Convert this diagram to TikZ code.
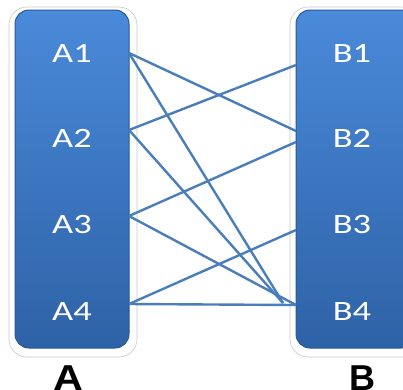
\documentclass[tikz,border=0pt]{standalone}
\usepackage{fontspec}
\newfontfamily\boxfont{Carlito}
\newfontfamily\labfont{Liberation Sans}
\definecolor{boxtop}{RGB}{74,138,218}
\definecolor{boxbot}{RGB}{46,98,166}
\definecolor{linkc}{RGB}{74,126,187}
\definecolor{glowc}{RGB}{200,200,200}
\tikzset{
  glowbox/.style={draw=glowc,line width=0.6pt,fill=white,rounded corners=18pt},
  bluebox/.style={top color=boxtop,bottom color=boxbot,draw=boxbot!90!black,line width=1pt,rounded corners=14pt},
  itemtxt/.style={text=white,font=\boxfont\fontsize{28}{28}\selectfont,inner sep=0pt},
  grouptxt/.style={text=black,font=\labfont\bfseries\fontsize{36}{36}\selectfont,inner sep=0pt,anchor=base},
  link/.style={draw=linkc,line width=2.4pt}
}
\begin{document}
\begin{tikzpicture}[x=1pt,y=-1pt]
\useasboundingbox (0,0) rectangle (403,389);
\begin{scope}
\clip (0,0) rectangle (403,389);
% glow outlines
\draw[glowbox] (9,7) rectangle (137,357);
\draw[glowbox] (290,7) rectangle (420,357);
% boxes
\path[bluebox] (15,10) rectangle (129,348);
\path[bluebox] (296,10) rectangle (415,348);
\node (boxA) at (72,179) {};
\node (boxB) at (352,179) {};
% items
\node[itemtxt] (A1) at (72,53) {\scalebox{1.3}[1]{A1}};
\node[itemtxt] (A2) at (72,138) {\scalebox{1.3}[1]{A2}};
\node[itemtxt] (A3) at (72,225) {\scalebox{1.3}[1]{A3}};
\node[itemtxt] (A4) at (72,311) {\scalebox{1.3}[1]{A4}};
\node[itemtxt] (B1) at (352,53) {\scalebox{1.3}[1]{B1}};
\node[itemtxt] (B2) at (352,138) {\scalebox{1.3}[1]{B2}};
\node[itemtxt] (B3) at (352,225) {\scalebox{1.3}[1]{B3}};
\node[itemtxt] (B4) at (352,311) {\scalebox{1.3}[1]{B4}};
% connection ports
\coordinate (a1) at (129,53);
\coordinate (a2) at (129,130);
\coordinate (a3) at (129,216);
\coordinate (a4) at (129,304);
\coordinate (b1) at (296,65);
\coordinate (b2u) at (296,131);
\coordinate (b2l) at (296,142);
\coordinate (b3) at (296,230);
\coordinate (b4) at (296,305);
\coordinate (b4i) at (283,303);
% connectors
\draw[link] (a1) -- (b2u);
\draw[link] (a1) -- (b4i);
\draw[link] (a2) -- (b1);
\draw[link] (a2) -- (b4i);
\draw[link] (a3) -- (b2l);
\draw[link] (a3) -- (b4);
\draw[link] (a4) -- (b3);
\draw[link] (a4) -- (b4);
% group labels
\node[grouptxt] (labA) at (68,390) {\scalebox{1.15}[1]{A}};
\node[grouptxt] (labB) at (362,390) {B};
\end{scope}
\end{tikzpicture}
\end{document}
